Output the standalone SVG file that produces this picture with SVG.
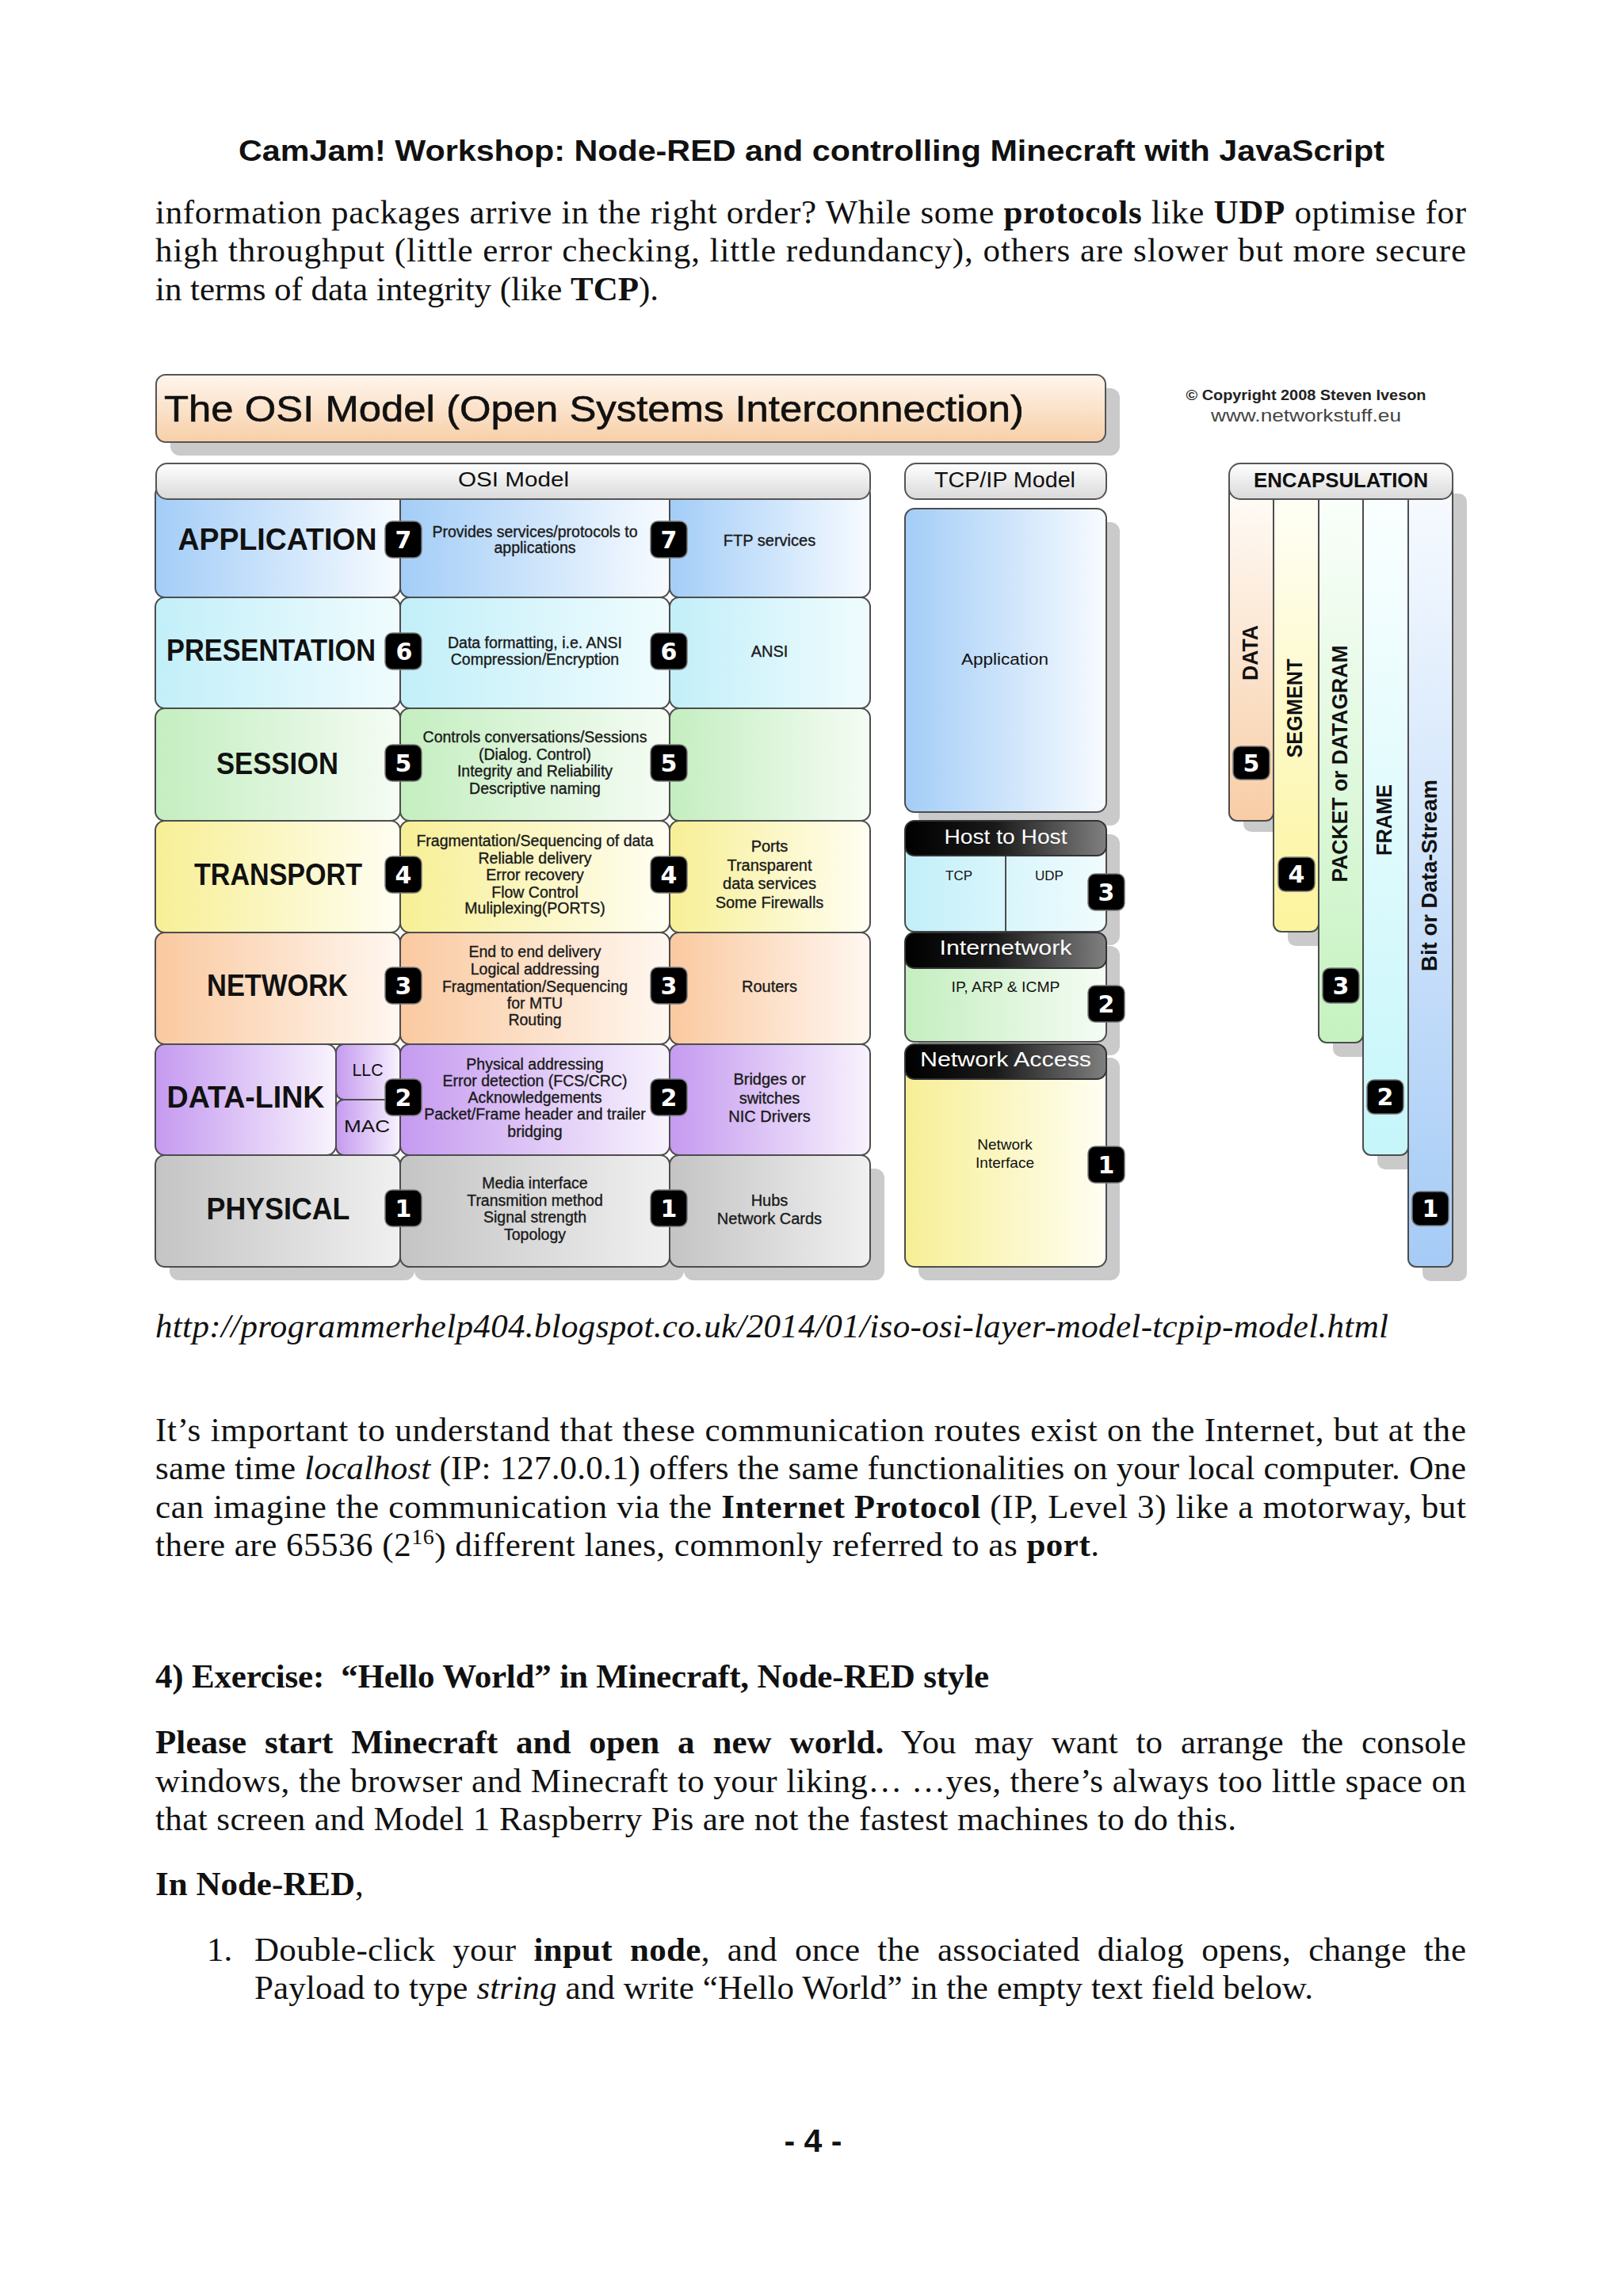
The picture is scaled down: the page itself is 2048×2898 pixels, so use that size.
<svg xmlns="http://www.w3.org/2000/svg" width="2048" height="2898" viewBox="0 0 2048 2898">
<defs>
<linearGradient id="gApp" x1="0" y1="0" x2="1" y2="0"><stop offset="0" stop-color="#a3cdf7"/><stop offset="1" stop-color="#f7fbff"/></linearGradient>
<linearGradient id="gPres" x1="0" y1="0" x2="1" y2="0"><stop offset="0" stop-color="#c2eff9"/><stop offset="1" stop-color="#f0fcfe"/></linearGradient>
<linearGradient id="gSess" x1="0" y1="0" x2="1" y2="0"><stop offset="0" stop-color="#c4eec0"/><stop offset="1" stop-color="#f5fcf4"/></linearGradient>
<linearGradient id="gTrans" x1="0" y1="0" x2="1" y2="0"><stop offset="0" stop-color="#f7ef95"/><stop offset="1" stop-color="#fffef2"/></linearGradient>
<linearGradient id="gNet" x1="0" y1="0" x2="1" y2="0"><stop offset="0" stop-color="#fac9a0"/><stop offset="1" stop-color="#fff7f0"/></linearGradient>
<linearGradient id="gDL" x1="0" y1="0" x2="1" y2="0"><stop offset="0" stop-color="#c59af0"/><stop offset="1" stop-color="#f8f3fd"/></linearGradient>
<linearGradient id="gPhy" x1="0" y1="0" x2="1" y2="0"><stop offset="0" stop-color="#c4c4c4"/><stop offset="1" stop-color="#f0f0f0"/></linearGradient>
<linearGradient id="gTitle" x1="0" y1="0" x2="0" y2="1"><stop offset="0" stop-color="#fff6ee"/><stop offset="1" stop-color="#f7cfa7"/></linearGradient>
<linearGradient id="gHead" x1="0" y1="0" x2="0" y2="1"><stop offset="0" stop-color="#ffffff"/><stop offset="1" stop-color="#d9d9d9"/></linearGradient>
<linearGradient id="gDark" x1="0" y1="0" x2="1" y2="0"><stop offset="0" stop-color="#000"/><stop offset="0.45" stop-color="#1a1a1a"/><stop offset="1" stop-color="#808080"/></linearGradient>
<linearGradient id="gvData" x1="0" y1="0" x2="0" y2="1"><stop offset="0" stop-color="#fffdfa"/><stop offset="1" stop-color="#f8cda6"/></linearGradient>
<linearGradient id="gvSeg" x1="0" y1="0" x2="0" y2="1"><stop offset="0" stop-color="#fffffa"/><stop offset="1" stop-color="#fcf49c"/></linearGradient>
<linearGradient id="gvPkt" x1="0" y1="0" x2="0" y2="1"><stop offset="0" stop-color="#fcfffc"/><stop offset="1" stop-color="#c5f2c0"/></linearGradient>
<linearGradient id="gvFrm" x1="0" y1="0" x2="0" y2="1"><stop offset="0" stop-color="#fcffff"/><stop offset="1" stop-color="#c5f6fa"/></linearGradient>
<linearGradient id="gvBit" x1="0" y1="0" x2="0" y2="1"><stop offset="0" stop-color="#f8fbff"/><stop offset="1" stop-color="#a5cbf6"/></linearGradient>
</defs>
<style>
.body{font-family:"Liberation Serif","Times New Roman",serif;font-size:43px;fill:#111}
.b{font-weight:bold}
.i{font-style:italic}
.cell{stroke:#4d4d4d;stroke-width:2}
.shadow{fill:#cacaca}
.lbl{font-family:"Liberation Sans",Arial,sans-serif;font-weight:bold;font-size:39px;text-anchor:middle;fill:#111}
.sm{font-family:"Liberation Sans",Arial,sans-serif;font-size:19.5px;text-anchor:middle;fill:#1a1a1a;stroke:#1a1a1a;stroke-width:0.35}
.sm3{font-family:"Liberation Sans",Arial,sans-serif;font-size:20px;text-anchor:middle;fill:#1a1a1a;stroke:#1a1a1a;stroke-width:0.35}
.bdg{fill:#000;stroke:#777;stroke-width:1.5}
.num{font-family:"DejaVu Sans",sans-serif;font-weight:bold;font-size:30px;fill:#fff;text-anchor:middle}
.hd{font-family:"Liberation Sans",Arial,sans-serif;text-anchor:middle;fill:#111}
.dk{font-family:"Liberation Sans",Arial,sans-serif;font-size:26px;text-anchor:middle;fill:#fff}
.enc{font-family:"Liberation Sans",Arial,sans-serif;font-weight:bold;font-size:27px;text-anchor:middle;fill:#111}
</style>
<rect width="2048" height="2898" fill="#fff"/>

<g id="page-header">
<text x="1024" y="203" font-family="Liberation Sans, Arial, sans-serif" font-weight="bold" font-size="37" text-anchor="middle" textLength="1446" lengthAdjust="spacingAndGlyphs" fill="#111">CamJam! Workshop: Node-RED and controlling Minecraft with JavaScript</text>
</g>

<g id="para1">
<text class="body" x="196" y="282" textLength="1654" lengthAdjust="spacing">information packages arrive in the right order? While some <tspan class="b">protocols</tspan> like <tspan class="b">UDP</tspan> optimise for</text>
<text class="body" x="196" y="330" textLength="1654" lengthAdjust="spacing">high throughput (little error checking, little redundancy), others are slower but more secure</text>
<text class="body" x="196" y="379" textLength="635" lengthAdjust="spacing">in terms of data integrity (like <tspan class="b">TCP</tspan>).</text>
</g>

<g id="title">
<rect class="shadow" x="215" y="490" width="1198" height="85" rx="12"/>
<rect x="197" y="473" width="1198" height="85" rx="12" fill="url(#gTitle)" stroke="#555" stroke-width="2"/>
<text x="207" y="532" font-family="Liberation Sans, Arial, sans-serif" font-size="46" textLength="1085" lengthAdjust="spacingAndGlyphs" fill="#111" stroke="#111" stroke-width="0.6">The OSI Model (Open Systems Interconnection)</text>
</g>

<g id="copyright">
<text x="1648" y="505" font-family="Liberation Sans, Arial, sans-serif" font-weight="bold" font-size="18" text-anchor="middle" textLength="303" lengthAdjust="spacingAndGlyphs" fill="#222">© Copyright 2008 Steven Iveson</text>
<text x="1648" y="532" font-family="Liberation Sans, Arial, sans-serif" font-size="22" text-anchor="middle" textLength="240" lengthAdjust="spacingAndGlyphs" fill="#444">www.networkstuff.eu</text>
</g>

<g id="osi-cells">
<rect class="shadow" x="214" y="1475" width="309" height="141" rx="12"/>
<rect class="shadow" x="523" y="1475" width="340" height="141" rx="12"/>
<rect class="shadow" x="863" y="1475" width="253" height="141" rx="12"/>

<g id="row-application">
<rect class="cell" x="196" y="612" width="309" height="142" rx="12" fill="url(#gApp)"/>
<rect class="cell" x="505" y="612" width="340" height="142" rx="12" fill="url(#gApp)"/>
<rect class="cell" x="845" y="612" width="253" height="142" rx="12" fill="url(#gApp)"/>
<text class="lbl" x="350" y="694" textLength="251" lengthAdjust="spacingAndGlyphs">APPLICATION</text>
<text class="sm" x="675" y="678">Provides services/protocols to</text>
<text class="sm" x="675" y="698">applications</text>
<text class="sm3" x="971" y="689">FTP services</text>
</g>
<g id="row-presentation">
<rect class="cell" x="196" y="754" width="309" height="140" rx="12" fill="url(#gPres)"/>
<rect class="cell" x="505" y="754" width="340" height="140" rx="12" fill="url(#gPres)"/>
<rect class="cell" x="845" y="754" width="253" height="140" rx="12" fill="url(#gPres)"/>
<text class="lbl" x="342" y="834" font-size="33" textLength="264" lengthAdjust="spacingAndGlyphs">PRESENTATION</text>
<text class="sm" x="675" y="818">Data formatting, i.e. ANSI</text>
<text class="sm" x="675" y="839">Compression/Encryption</text>
<text class="sm3" x="971" y="829">ANSI</text>
</g>
<g id="row-session">
<rect class="cell" x="196" y="894" width="309" height="142" rx="12" fill="url(#gSess)"/>
<rect class="cell" x="505" y="894" width="340" height="142" rx="12" fill="url(#gSess)"/>
<rect class="cell" x="845" y="894" width="253" height="142" rx="12" fill="url(#gSess)"/>
<text class="lbl" x="350" y="977" textLength="154" lengthAdjust="spacingAndGlyphs">SESSION</text>
<text class="sm" x="675" y="937">Controls conversations/Sessions</text>
<text class="sm" x="675" y="959">(Dialog. Control)</text>
<text class="sm" x="675" y="980">Integrity and Reliability</text>
<text class="sm" x="675" y="1002">Descriptive naming</text>
</g>
<g id="row-transport">
<rect class="cell" x="196" y="1036" width="309" height="141" rx="12" fill="url(#gTrans)"/>
<rect class="cell" x="505" y="1036" width="340" height="141" rx="12" fill="url(#gTrans)"/>
<rect class="cell" x="845" y="1036" width="253" height="141" rx="12" fill="url(#gTrans)"/>
<text class="lbl" x="351" y="1117" textLength="212" lengthAdjust="spacingAndGlyphs">TRANSPORT</text>
<text class="sm" x="675" y="1068">Fragmentation/Sequencing of data</text>
<text class="sm" x="675" y="1090">Reliable delivery</text>
<text class="sm" x="675" y="1111">Error recovery</text>
<text class="sm" x="675" y="1133">Flow Control</text>
<text class="sm" x="675" y="1153">Muliplexing(PORTS)</text>
<text class="sm3" x="971" y="1075">Ports</text>
<text class="sm3" x="971" y="1099">Transparent</text>
<text class="sm3" x="971" y="1122">data services</text>
<text class="sm3" x="971" y="1146">Some Firewalls</text>
</g>
<g id="row-network">
<rect class="cell" x="196" y="1177" width="309" height="141" rx="12" fill="url(#gNet)"/>
<rect class="cell" x="505" y="1177" width="340" height="141" rx="12" fill="url(#gNet)"/>
<rect class="cell" x="845" y="1177" width="253" height="141" rx="12" fill="url(#gNet)"/>
<text class="lbl" x="350" y="1257" textLength="178" lengthAdjust="spacingAndGlyphs">NETWORK</text>
<text class="sm" x="675" y="1208">End to end delivery</text>
<text class="sm" x="675" y="1230">Logical addressing</text>
<text class="sm" x="675" y="1252">Fragmentation/Sequencing</text>
<text class="sm" x="675" y="1273">for MTU</text>
<text class="sm" x="675" y="1294">Routing</text>
<text class="sm3" x="971" y="1252">Routers</text>
</g>
<g id="row-datalink">
<rect class="cell" x="196" y="1318" width="228" height="140" rx="12" fill="url(#gDL)"/>
<rect class="cell" x="424" y="1318" width="81" height="70" rx="10" fill="url(#gDL)"/>
<rect class="cell" x="424" y="1388" width="81" height="70" rx="10" fill="url(#gDL)"/>
<rect class="cell" x="505" y="1318" width="340" height="140" rx="12" fill="url(#gDL)"/>
<rect class="cell" x="845" y="1318" width="253" height="140" rx="12" fill="url(#gDL)"/>
<text class="lbl" x="310" y="1398" textLength="199" lengthAdjust="spacingAndGlyphs">DATA-LINK</text>
<text class="hd" x="464" y="1358" font-size="22" textLength="39" lengthAdjust="spacingAndGlyphs">LLC</text>
<text class="hd" x="463" y="1429" font-size="22" textLength="58" lengthAdjust="spacingAndGlyphs">MAC</text>
<text class="sm" x="675" y="1350">Physical addressing</text>
<text class="sm" x="675" y="1371">Error detection (FCS/CRC)</text>
<text class="sm" x="675" y="1392">Acknowledgements</text>
<text class="sm" x="675" y="1413">Packet/Frame header and trailer</text>
<text class="sm" x="675" y="1435">bridging</text>
<text class="sm3" x="971" y="1369">Bridges or</text>
<text class="sm3" x="971" y="1393">switches</text>
<text class="sm3" x="971" y="1416">NIC Drivers</text>
</g>
<g id="row-physical">
<rect class="cell" x="196" y="1458" width="309" height="141" rx="12" fill="url(#gPhy)"/>
<rect class="cell" x="505" y="1458" width="340" height="141" rx="12" fill="url(#gPhy)"/>
<rect class="cell" x="845" y="1458" width="253" height="141" rx="12" fill="url(#gPhy)"/>
<text class="lbl" x="351" y="1539" textLength="181" lengthAdjust="spacingAndGlyphs">PHYSICAL</text>
<text class="sm" x="675" y="1500">Media interface</text>
<text class="sm" x="675" y="1522">Transmition method</text>
<text class="sm" x="675" y="1543">Signal strength</text>
<text class="sm" x="675" y="1565">Topology</text>
<text class="sm3" x="971" y="1522">Hubs</text>
<text class="sm3" x="971" y="1545">Network Cards</text>
</g>
</g>

<g id="osi-header">
<rect x="197" y="585" width="901" height="45" rx="14" fill="url(#gHead)" stroke="#555" stroke-width="2"/>
<text class="hd" x="648" y="614" font-size="25" textLength="140" lengthAdjust="spacingAndGlyphs">OSI Model</text>
</g>

<g id="osi-badges">
<rect class="bdg" x="486" y="658" width="46" height="46" rx="9"/><text class="num" x="509" y="692">7</text>
<rect class="bdg" x="821" y="658" width="46" height="46" rx="9"/><text class="num" x="844" y="692">7</text>
<rect class="bdg" x="486" y="799" width="46" height="46" rx="9"/><text class="num" x="510" y="833">6</text>
<rect class="bdg" x="821" y="799" width="46" height="46" rx="9"/><text class="num" x="844" y="833">6</text>
<rect class="bdg" x="486" y="940" width="46" height="46" rx="9"/><text class="num" x="509" y="974">5</text>
<rect class="bdg" x="821" y="940" width="46" height="46" rx="9"/><text class="num" x="844" y="974">5</text>
<rect class="bdg" x="486" y="1081" width="46" height="46" rx="9"/><text class="num" x="509" y="1115">4</text>
<rect class="bdg" x="821" y="1081" width="46" height="46" rx="9"/><text class="num" x="844" y="1115">4</text>
<rect class="bdg" x="486" y="1221" width="46" height="46" rx="9"/><text class="num" x="509" y="1255">3</text>
<rect class="bdg" x="821" y="1221" width="46" height="46" rx="9"/><text class="num" x="844" y="1255">3</text>
<rect class="bdg" x="486" y="1362" width="46" height="46" rx="9"/><text class="num" x="509" y="1396">2</text>
<rect class="bdg" x="821" y="1362" width="46" height="46" rx="9"/><text class="num" x="844" y="1396">2</text>
<rect class="bdg" x="486" y="1502" width="46" height="46" rx="9"/><text class="num" x="509" y="1536">1</text>
<rect class="bdg" x="821" y="1502" width="46" height="46" rx="9"/><text class="num" x="844" y="1536">1</text>
</g>

<g id="tcpip">
<rect x="1142" y="585" width="254" height="45" rx="14" fill="url(#gHead)" stroke="#555" stroke-width="2"/>
<text class="hd" x="1268" y="615" font-size="27" textLength="178" lengthAdjust="spacingAndGlyphs">TCP/IP Model</text>

<g id="tcpip-application">
<rect class="shadow" x="1159" y="659" width="254" height="383" rx="12"/>
<rect class="cell" x="1142" y="642" width="254" height="383" rx="12" fill="url(#gApp)"/>
<text class="hd" x="1268" y="839" font-size="20" textLength="110" lengthAdjust="spacingAndGlyphs">Application</text>
</g>

<g id="tcpip-host">
<rect class="shadow" x="1159" y="1053" width="254" height="140" rx="12"/>
<rect class="cell" x="1142" y="1060" width="254" height="116" rx="12" fill="url(#gPres)"/>
<line x1="1269" y1="1080" x2="1269" y2="1176" stroke="#4d4d4d" stroke-width="2"/>
<rect x="1142" y="1036" width="254" height="44" rx="12" fill="url(#gDark)" stroke="#333" stroke-width="2"/>
<text class="dk" x="1269" y="1065" textLength="155" lengthAdjust="spacingAndGlyphs">Host to Host</text>
<text class="hd" x="1210" y="1111" font-size="17">TCP</text>
<text class="hd" x="1324" y="1111" font-size="17">UDP</text>
<rect class="bdg" x="1373" y="1103" width="46" height="46" rx="9"/><text class="num" x="1396" y="1137">3</text>
</g>

<g id="tcpip-internetwork">
<rect class="shadow" x="1159" y="1194" width="254" height="138" rx="12"/>
<rect class="cell" x="1142" y="1200" width="254" height="115" rx="12" fill="url(#gSess)"/>
<rect x="1142" y="1177" width="254" height="45" rx="12" fill="url(#gDark)" stroke="#333" stroke-width="2"/>
<text class="dk" x="1269" y="1205" textLength="167" lengthAdjust="spacingAndGlyphs">Internetwork</text>
<text class="hd" x="1269" y="1252" font-size="18" textLength="137" lengthAdjust="spacingAndGlyphs">IP, ARP &amp; ICMP</text>
<rect class="bdg" x="1373" y="1244" width="46" height="46" rx="9"/><text class="num" x="1396" y="1278">2</text>
</g>

<g id="tcpip-network-access">
<rect class="shadow" x="1159" y="1335" width="254" height="281" rx="12"/>
<rect class="cell" x="1142" y="1340" width="254" height="259" rx="12" fill="url(#gTrans)"/>
<rect x="1142" y="1318" width="254" height="44" rx="12" fill="url(#gDark)" stroke="#333" stroke-width="2"/>
<text class="dk" x="1269" y="1346" textLength="216" lengthAdjust="spacingAndGlyphs">Network Access</text>
<text class="hd" x="1268" y="1451" font-size="19">Network</text>
<text class="hd" x="1268" y="1474" font-size="19">Interface</text>
<rect class="bdg" x="1373" y="1447" width="46" height="46" rx="9"/><text class="num" x="1396" y="1481">1</text>
</g>
</g>

<g id="encapsulation">
<rect class="shadow" x="1569" y="623" width="56" height="427" rx="10"/>
<rect class="shadow" x="1625" y="623" width="57" height="571" rx="10"/>
<rect class="shadow" x="1682" y="623" width="56" height="711" rx="10"/>
<rect class="shadow" x="1738" y="623" width="57" height="853" rx="10"/>
<rect class="shadow" x="1795" y="623" width="56" height="994" rx="10"/>

<g id="enc-bit">
<rect class="cell" x="1777" y="605" width="56" height="994" rx="10" fill="url(#gvBit)"/>
<text class="enc" transform="translate(1803,1105) rotate(-90)" x="0" y="10" textLength="242" lengthAdjust="spacingAndGlyphs">Bit or Data-Stream</text>
<rect class="bdg" x="1782" y="1504" width="46" height="43" rx="9"/><text class="num" x="1805" y="1536">1</text>
</g>
<g id="enc-frame">
<rect class="cell" x="1720" y="605" width="57" height="853" rx="10" fill="url(#gvFrm)"/>
<text class="enc" transform="translate(1746,1035) rotate(-90)" x="0" y="10" textLength="90" lengthAdjust="spacingAndGlyphs">FRAME</text>
<rect class="bdg" x="1725" y="1363" width="46" height="43" rx="9"/><text class="num" x="1748" y="1395">2</text>
</g>
<g id="enc-packet">
<rect class="cell" x="1664" y="605" width="56" height="711" rx="10" fill="url(#gvPkt)"/>
<text class="enc" transform="translate(1690,964) rotate(-90)" x="0" y="10" textLength="299" lengthAdjust="spacingAndGlyphs">PACKET or DATAGRAM</text>
<rect class="bdg" x="1669" y="1222" width="46" height="44" rx="9"/><text class="num" x="1692" y="1255">3</text>
</g>
<g id="enc-segment">
<rect class="cell" x="1607" y="605" width="57" height="571" rx="10" fill="url(#gvSeg)"/>
<text class="enc" transform="translate(1633,894) rotate(-90)" x="0" y="10" textLength="125" lengthAdjust="spacingAndGlyphs">SEGMENT</text>
<rect class="bdg" x="1613" y="1082" width="46" height="43" rx="9"/><text class="num" x="1636" y="1114">4</text>
</g>
<g id="enc-data">
<rect class="cell" x="1551" y="605" width="56" height="431" rx="10" fill="url(#gvData)"/>
<text class="enc" transform="translate(1577,824) rotate(-90)" x="0" y="10" textLength="70" lengthAdjust="spacingAndGlyphs">DATA</text>
<rect class="bdg" x="1556" y="942" width="46" height="42" rx="9"/><text class="num" x="1579" y="974">5</text>
</g>

<rect x="1551" y="585" width="282" height="45" rx="14" fill="url(#gHead)" stroke="#555" stroke-width="2"/>
<text class="hd" x="1692" y="615" font-size="26" font-weight="bold" textLength="220" lengthAdjust="spacingAndGlyphs">ENCAPSULATION</text>
</g>

<g id="source-url">
<text class="body i" x="196" y="1688" textLength="1556" lengthAdjust="spacing">http://programmerhelp404.blogspot.co.uk/2014/01/iso-osi-layer-model-tcpip-model.html</text>
</g>

<g id="para2">
<text class="body" x="196" y="1819" textLength="1654" lengthAdjust="spacing">It’s important to understand that these communication routes exist on the Internet, but at the</text>
<text class="body" x="196" y="1867" textLength="1654" lengthAdjust="spacing">same time <tspan class="i">localhost</tspan> (IP: 127.0.0.1) offers the same functionalities on your local computer. One</text>
<text class="body" x="196" y="1916" textLength="1654" lengthAdjust="spacing">can imagine the communication via the <tspan class="b">Internet Protocol</tspan> (IP, Level 3) like a motorway, but</text>
<text class="body" x="196" y="1964" textLength="1191" lengthAdjust="spacing">there are 65536 (2<tspan dy="-15" font-size="28">16</tspan><tspan dy="15">) different lanes, commonly referred to as </tspan><tspan class="b">port</tspan>.</text>
</g>

<g id="exercise">
<text class="body b" x="196" y="2130" textLength="1052" lengthAdjust="spacing">4) Exercise: &#160;“Hello World” in Minecraft, Node-RED style</text>

<text class="body" x="196" y="2213" word-spacing="12" textLength="1654" lengthAdjust="spacing"><tspan class="b">Please start Minecraft and open a new world.</tspan> You may want to arrange the console</text>
<text class="body" x="196" y="2262" textLength="1654" lengthAdjust="spacing">windows, the browser and Minecraft to your liking… …yes, there’s always too little space on</text>
<text class="body" x="196" y="2310" textLength="1364" lengthAdjust="spacing">that screen and Model 1 Raspberry Pis are not the fastest machines to do this.</text>

<text class="body" x="196" y="2392"><tspan class="b">In Node-RED</tspan>,</text>

<text class="body" x="261" y="2475">1.</text>
<text class="body" x="321" y="2475" word-spacing="11" textLength="1529" lengthAdjust="spacing">Double-click your <tspan class="b">input node</tspan>, and once the associated dialog opens, change the</text>
<text class="body" x="321" y="2523" textLength="1336" lengthAdjust="spacing">Payload to type <tspan class="i">string</tspan> and write “Hello World” in the empty text field below.</text>
</g>

<g id="page-number">
<text x="1026" y="2716" font-family="Liberation Sans, Arial, sans-serif" font-weight="bold" font-size="41" text-anchor="middle" fill="#111">- 4 -</text>
</g>
</svg>
